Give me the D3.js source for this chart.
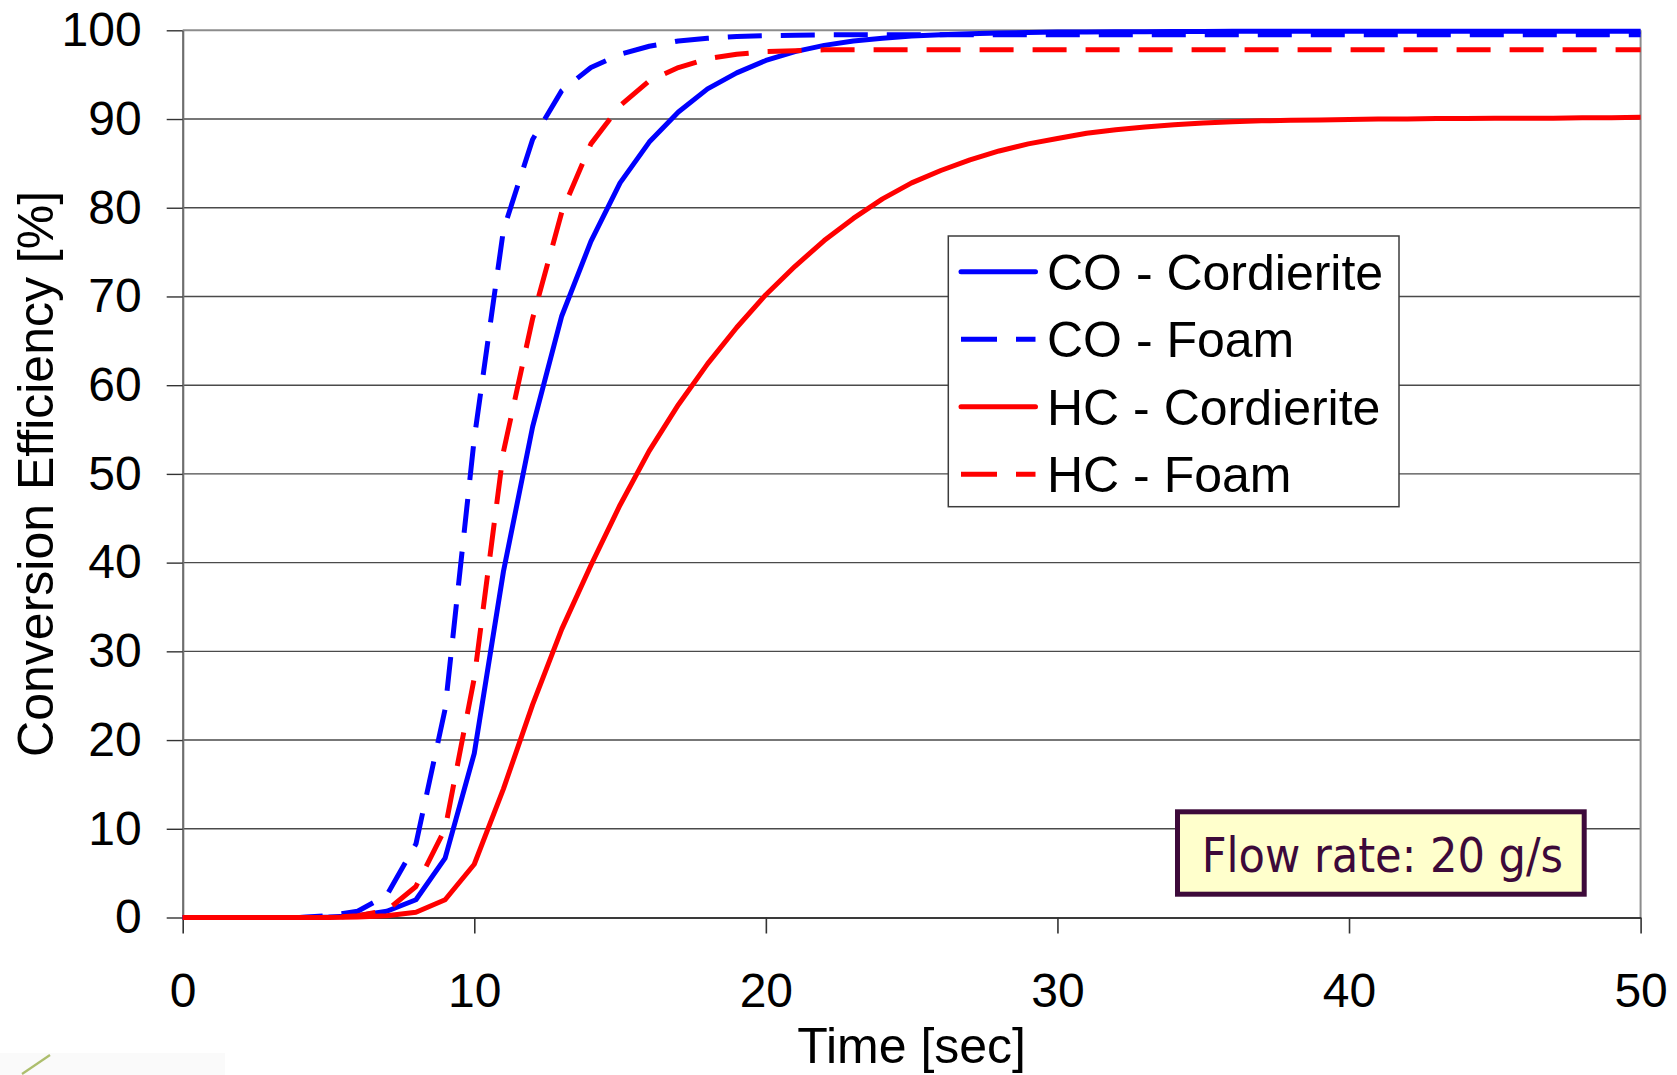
<!DOCTYPE html>
<html>
<head>
<meta charset="utf-8">
<script src="https://cdn.jsdelivr.net/npm/d3@7"></script>
<style>
  html, body { margin: 0; padding: 0; background: #ffffff; }
  svg { display: block; }
</style>
</head>
<body>
<svg id="chart" width="1677" height="1075"></svg>
<script>
// Light-off curves: conversion efficiency vs. time, sampled every second
const timeSec = [0,1,2,3,4,5,6,7,8,9,10,11,12,13,14,15,16,17,18,19,20,21,22,23,24,25,26,27,28,29,30,31,32,33,34,35,36,37,38,39,40,41,42,43,44,45,46,47,48,49,50];

const coCordierite = [0,0,0,0,0,0.05,0.2,0.7,2.0,6.7,18.5,39,55.3,67.8,76.2,82.8,87.4,90.8,93.4,95.2,96.6,97.6,98.3,98.8,99.1,99.35,99.5,99.6,99.7,99.75,99.8,99.82,99.84,99.85,99.86,99.87,99.88,99.88,99.89,99.89,99.9,99.9,99.9,99.9,99.9,99.9,99.9,99.9,99.9,99.9,99.9];

const coFoam = [0,0,0,0,0,0.2,0.7,2.5,8.3,23.5,54,77.5,87.7,93.2,95.8,97.3,98.2,98.8,99.1,99.3,99.4,99.45,99.5,99.5,99.5,99.5,99.5,99.5,99.5,99.5,99.5,99.5,99.5,99.5,99.5,99.5,99.5,99.5,99.5,99.5,99.5,99.5,99.5,99.5,99.5,99.5,99.5,99.5,99.5,99.5,99.5];

const hcCordierite = [0,0,0,0,0,0,0.05,0.2,0.6,2.0,6.0,14.5,24,32.5,39.7,46.5,52.6,57.8,62.4,66.5,70.2,73.4,76.3,78.8,81,82.8,84.2,85.4,86.4,87.2,87.8,88.4,88.8,89.1,89.35,89.55,89.7,89.8,89.85,89.9,89.95,90,90,90.05,90.05,90.1,90.1,90.1,90.15,90.15,90.2];

const hcFoam = [0,0,0,0,0,0,0.2,0.8,3.5,10,27,52.5,67.5,79.5,87.2,91.5,94.3,95.8,96.8,97.3,97.6,97.7,97.8,97.8,97.8,97.8,97.8,97.8,97.8,97.8,97.8,97.8,97.8,97.8,97.8,97.8,97.8,97.8,97.8,97.8,97.8,97.8,97.8,97.8,97.8,97.8,97.8,97.8,97.8,97.8,97.8];

const seriesNames = ["CO - Cordierite", "CO - Foam", "HC - Cordierite", "HC - Foam"];
const seriesValues = [coCordierite, coFoam, hcCordierite, hcFoam];

const xTicks = [0, 10, 20, 30, 40, 50];
const yTicks = [0, 10, 20, 30, 40, 50, 60, 70, 80, 90, 100];
const xTitle = "Time [sec]";
const yTitle = "Conversion Efficiency [%]";
const noteText = "Flow rate: 20 g/s";

// Styling per series
const seriesColor = ["#0000ff", "#0000ff", "#ff0000", "#ff0000"];
const seriesDash = [null, "34,19", null, "34,19"];

const svg = d3.select("#chart");
const plotLeft = 182.7, plotRight = 1640.6, plotTop = 30.3, plotBottom = 917.5;

const x = d3.scaleLinear().domain([0, 50]).range([plotLeft, plotRight]);
const y = d3.scaleLinear().domain([0, 100]).range([plotBottom, plotTop]);

const font = "'Liberation Sans', Arial, sans-serif";

// faint logo remnant at the bottom-left corner
svg.append("rect").attr("x", 0).attr("y", 1053).attr("width", 225).attr("height", 22).attr("fill", "#fafafa");
svg.append("line").attr("x1", 22).attr("y1", 1074).attr("x2", 50).attr("y2", 1055)
  .attr("stroke", "#9ab04a").attr("stroke-width", 2.2).attr("opacity", 0.8);

// horizontal gridlines
svg.append("g").selectAll("line")
  .data(yTicks.filter(v => v > 0 && v < 100))
  .join("line")
  .attr("x1", plotLeft).attr("x2", plotRight)
  .attr("y1", d => y(d)).attr("y2", d => y(d))
  .attr("stroke", "#4a4a4a").attr("stroke-width", 1.4);

// plot area frame (top and right)
svg.append("line").attr("x1", plotLeft).attr("x2", plotRight).attr("y1", plotTop).attr("y2", plotTop)
  .attr("stroke", "#8c8c8c").attr("stroke-width", 2);
svg.append("line").attr("x1", plotRight).attr("x2", plotRight).attr("y1", plotTop).attr("y2", plotBottom)
  .attr("stroke", "#8c8c8c").attr("stroke-width", 2);

// y axis
const yAxis = svg.append("g").attr("transform", `translate(${plotLeft},0)`)
  .call(d3.axisLeft(y).tickValues(yTicks).tickSize(16).tickPadding(25).tickSizeOuter(0));
yAxis.select(".domain").attr("stroke", "#6e6e6e").attr("stroke-width", 2.2);
yAxis.selectAll(".tick line").attr("stroke", "#333").attr("stroke-width", 1.4);
yAxis.selectAll(".tick text").attr("font-family", font).attr("font-size", 48).attr("fill", "#000");

// x axis
const xAxis = svg.append("g").attr("transform", `translate(0,${plotBottom})`)
  .call(d3.axisBottom(x).tickValues(xTicks).tickSize(16).tickPadding(39).tickSizeOuter(0));
xAxis.select(".domain").attr("stroke", "#3a3a3a").attr("stroke-width", 2.2);
xAxis.selectAll(".tick line").attr("stroke", "#333").attr("stroke-width", 1.6);
xAxis.selectAll(".tick text").attr("font-family", font).attr("font-size", 48).attr("fill", "#000");

// axis titles
svg.append("text").attr("x", (plotLeft + plotRight) / 2).attr("y", 1063)
  .attr("text-anchor", "middle").attr("font-family", font).attr("font-size", 50)
  .attr("fill", "#000").text(xTitle);
svg.append("text").attr("transform", `translate(53,${(plotTop + plotBottom) / 2}) rotate(-90)`)
  .attr("text-anchor", "middle").attr("font-family", font).attr("font-size", 50)
  .attr("fill", "#000").text(yTitle);

// curves
const line = d3.line()
  .x((d, i) => x(timeSec[i]))
  .y(d => y(d));

svg.append("g").selectAll("path")
  .data(seriesValues)
  .join("path")
  .attr("d", d => line(d))
  .attr("fill", "none")
  .attr("stroke", (d, i) => seriesColor[i])
  .attr("stroke-width", 5)
  .attr("stroke-linejoin", "round")
  .attr("stroke-dasharray", (d, i) => seriesDash[i]);

// legend
const legend = svg.append("g");
legend.append("rect").attr("x", 948.3).attr("y", 236).attr("width", 450.7).attr("height", 270.7)
  .attr("fill", "#fff").attr("stroke", "#3c3c3c").attr("stroke-width", 1.5);
const rowY = [271.7, 339.3, 406.7, 474.3];
seriesNames.forEach((name, i) => {
  legend.append("line").attr("x1", 961).attr("x2", 1035.5).attr("y1", rowY[i]).attr("y2", rowY[i])
    .attr("stroke", seriesColor[i]).attr("stroke-width", 5)
    .attr("stroke-linecap", seriesDash[i] ? "butt" : "round")
    .attr("stroke-dasharray", seriesDash[i] ? "36,19" : null);
  legend.append("text").attr("x", 1047).attr("y", rowY[i] + 18)
    .attr("font-family", font).attr("font-size", 50).attr("fill", "#000").text(name);
});

// operating-condition note
svg.append("rect").attr("x", 1177.5).attr("y", 811.8).attr("width", 406.7).attr("height", 82.4)
  .attr("fill", "#ffffcc").attr("stroke", "#3d0a3a").attr("stroke-width", 5);
svg.append("text").attr("x", 1201.7).attr("y", 871.7)
  .attr("font-family", "'DejaVu Sans Condensed', 'DejaVu Sans', sans-serif")
  .attr("font-stretch", "condensed")
  .attr("font-size", 48).attr("fill", "#3d0a3a").text(noteText);
</script>
</body>
</html>
